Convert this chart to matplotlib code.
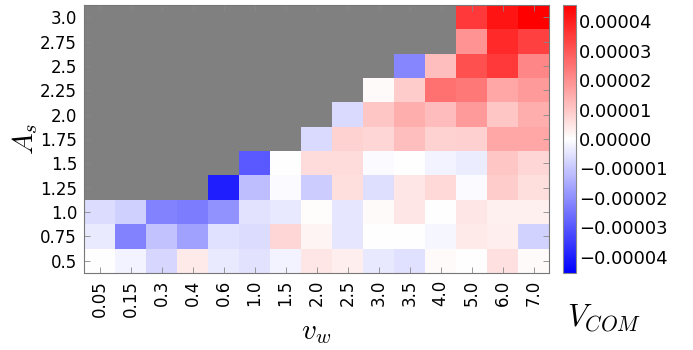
import numpy as np
import matplotlib
matplotlib.use("Agg")
import matplotlib.pyplot as plt
from matplotlib.ticker import FuncFormatter

plt.rcParams['mathtext.fontset'] = 'cm'
plt.rcParams['font.family'] = ['DejaVu Sans']

v_w = ['0.05', '0.15', '0.3', '0.4', '0.6', '1.0', '1.5', '2.0', '2.5',
       '3.0', '3.5', '4.0', '5.0', '6.0', '7.0']
A_s = ['3.0', '2.75', '2.5', '2.25', '2.0', '1.75', '1.5', '1.25', '1.0', '0.75', '0.5']

nan = np.nan
# V_COM values in units of 1e-5, rows from A_s = 3.0 (top) to 0.5 (bottom)
row_3_00 = [nan]*12 + [3.5, 4.2, 4.56]
row_2_75 = [nan]*12 + [1.9, 3.8, 3.4]
row_2_50 = [nan]*10 + [-2.15, 1.16, 3.1, 3.5, 2.15]
row_2_25 = [nan]*9 + [0.1, 0.9, 2.5, 2.4, 1.6, 1.8]
row_2_00 = [nan]*8 + [-0.66, 1.0, 1.43, 1.2, 1.8, 1.0, 1.43]
row_1_75 = [nan]*7 + [-0.66, 0.8, 0.72, 1.16, 0.8, 0.82, 1.6, 1.6]
row_1_50 = [nan]*5 + [-2.95, 0.0, 0.63, 0.63, -0.1, 0.0, -0.18, -0.33, 1.0, 0.72]
row_1_25 = [nan]*4 + [-4.0, -1.16, -0.1, -0.9, 0.6, -0.6, 0.45, 0.7, -0.1, 0.9, 0.6]
row_1_00 = [-0.63, -0.84, -2.24, -2.33, -1.93, -0.5, -0.41, 0.05, -0.45, 0.1, 0.45, 0.0, 0.45, 0.27, 0.27]
row_0_75 = [-0.36, -2.24, -1.07, -1.7, -0.54, -0.63, 0.72, 0.18, -0.45, 0.0, 0.0, -0.15, 0.36, 0.32, -0.8]
row_0_50 = [0.0, -0.18, -0.72, 0.36, -0.36, -0.5, -0.18, 0.45, 0.32, -0.4, -0.54, 0.1, 0.0, 0.54, 0.1]

data = np.array([row_3_00, row_2_75, row_2_50, row_2_25, row_2_00, row_1_75,
                 row_1_50, row_1_25, row_1_00, row_0_75, row_0_50]) * 1e-5
vlim = 4.56e-5

fig = plt.figure(figsize=(6.93, 3.5), dpi=100)
ax = fig.add_axes([84/693, 1-273/350, (549-84)/693, (273-5)/350])
cax = fig.add_axes([563/693, 1-273/350, 13/693, (273-5)/350])

cmap = plt.get_cmap('bwr').copy()
cmap.set_bad('#808080')
im = ax.imshow(np.ma.masked_invalid(data), cmap=cmap, vmin=-vlim, vmax=vlim,
               aspect='auto', interpolation='nearest')

ax.set_xticks(np.arange(len(v_w)))
ax.set_xticklabels(v_w, rotation=90, fontsize=12)
ax.set_yticks(np.arange(len(A_s)))
ax.set_yticklabels(A_s, fontsize=12)
ax.tick_params(direction='in', length=4, width=0.6, color='#888888',
               top=True, right=True, pad=5)
for s in ax.spines.values():
    s.set_color('#777777')
    s.set_linewidth(0.8)

ax.set_xlabel(r'$v_w$', fontsize=21, labelpad=1)
ax.set_ylabel(r'$A_s$', fontsize=21, labelpad=0)

cb = fig.colorbar(im, cax=cax)
cb.set_ticks([-4e-5, -3e-5, -2e-5, -1e-5, 0, 1e-5, 2e-5, 3e-5, 4e-5])
cb.ax.yaxis.set_major_formatter(FuncFormatter(lambda v, p: ('%.5f' % v).replace('-', '\u2212')))
cb.ax.tick_params(length=0, labelsize=13, pad=2)
cb.outline.set_edgecolor('#888888')
cb.outline.set_linewidth(0.8)

fig.text(604/693, 1-318/350, r'$V_{COM}$', fontsize=22, ha='center', va='center')

fig.savefig('out.png', dpi=100)
